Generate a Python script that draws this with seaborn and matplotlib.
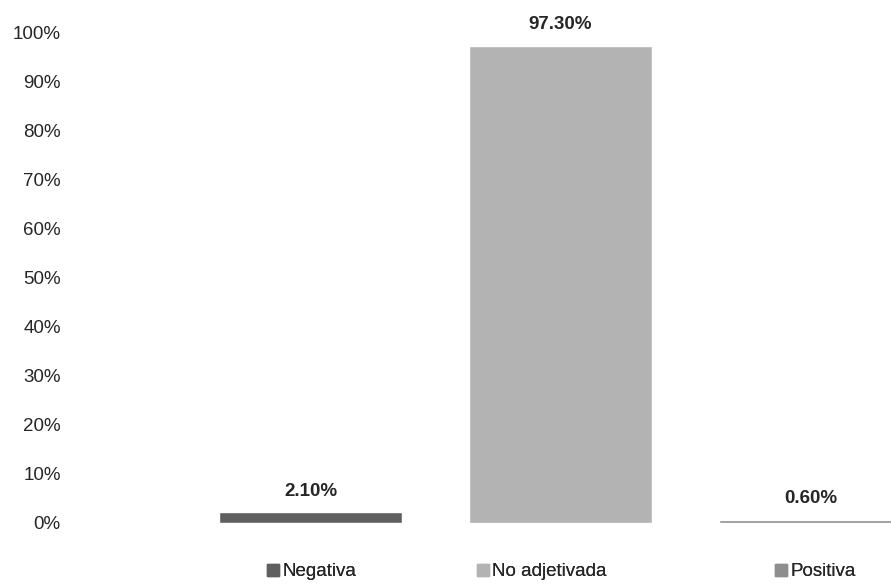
import matplotlib
matplotlib.use("Agg")
import matplotlib.pyplot as plt
import seaborn as sns
from matplotlib.patches import Patch

categorias = ["Negativa", "No adjetivada", "Positiva"]
porcentajes = [2.1, 97.3, 0.6]
etiquetas = ["2.10%", "97.30%", "0.60%"]
colores = ["#5f5f5f", "#b3b3b3", "#8e8e8e"]
ticks_y = list(range(0, 101, 10))

sns.set_style("white")
plt.rcParams["font.family"] = ["Liberation Sans", "DejaVu Sans"]

fig = plt.figure(figsize=(8.91, 5.86), dpi=100)
ax = fig.add_axes([65 / 891, 1 - 522.7 / 586, 1 - 65 / 891, (522.7 - 32.5) / 586])

sns.barplot(x=categorias, y=porcentajes, hue=categorias, palette=colores,
            width=0.732, legend=False, ax=ax, saturation=1)

for cont, txt in zip(ax.containers, etiquetas):
    ax.bar_label(cont, labels=[txt], padding=9, fontsize=13.5, fontweight="bold")

ax.set_ylim(0, 100)
ax.set_xlim(-0.982, 2.322)
ax.set_yticks(ticks_y)
ax.set_yticklabels([f"{t}%" for t in ticks_y], fontsize=13.5)
ax.tick_params(axis="y", length=0, pad=3)
ax.set_xticks([])
ax.set_xlabel("")
ax.set_ylabel("")
sns.despine(ax=ax, left=True, bottom=True)

# legend entries positioned individually along the bottom
pos_leyenda = [267, 477, 775]
for cat, col, px in zip(categorias, colores, pos_leyenda):
    leg = fig.legend(handles=[Patch(facecolor=col, edgecolor=col)], labels=[cat],
                     loc="center left", bbox_to_anchor=(px / 891, 1 - 572 / 586),
                     frameon=False, fontsize=13.5, handlelength=0.65, handleheight=0.65,
                     handletextpad=0.15, borderpad=0, borderaxespad=0)
    fig.add_artist(leg)

fig.savefig("out.png", dpi=100)
